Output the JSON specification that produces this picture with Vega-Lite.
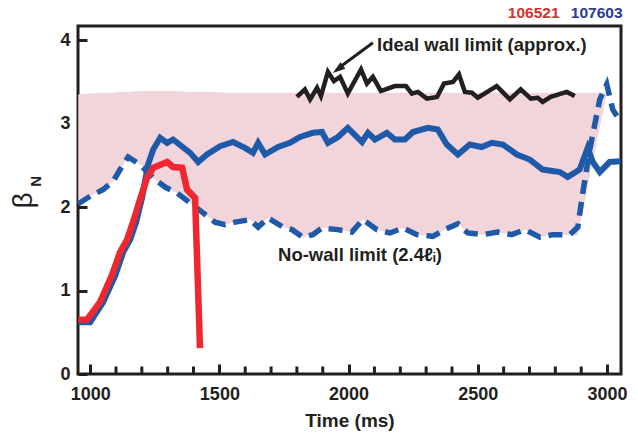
{
  "$schema": "https://vega.github.io/schema/vega-lite/v6.json",
  "width": 543,
  "height": 348,
  "autosize": {"type": "none"},
  "padding": {"left": 78, "top": 26, "right": 17, "bottom": 62},
  "background": "white",
  "config": {
    "view": {"stroke": "#231f20", "strokeWidth": 3},
    "font": "Liberation Sans"
  },
  "datasets": {
    "band": [
      {"t": 954, "lo": 2.04, "hi": 3.35}, {"t": 1000, "lo": 2.13, "hi": 3.36},
      {"t": 1050, "lo": 2.21, "hi": 3.37}, {"t": 1089, "lo": 2.31, "hi": 3.37},
      {"t": 1116, "lo": 2.45, "hi": 3.38}, {"t": 1147, "lo": 2.6, "hi": 3.38},
      {"t": 1193, "lo": 2.51, "hi": 3.39}, {"t": 1251, "lo": 2.33, "hi": 3.39},
      {"t": 1290, "lo": 2.24, "hi": 3.39}, {"t": 1336, "lo": 2.17, "hi": 3.39},
      {"t": 1387, "lo": 2.05, "hi": 3.38}, {"t": 1437, "lo": 1.93, "hi": 3.38},
      {"t": 1483, "lo": 1.82, "hi": 3.38}, {"t": 1522, "lo": 1.79, "hi": 3.37},
      {"t": 1561, "lo": 1.82, "hi": 3.37}, {"t": 1619, "lo": 1.85, "hi": 3.37},
      {"t": 1650, "lo": 1.76, "hi": 3.37}, {"t": 1688, "lo": 1.87, "hi": 3.37},
      {"t": 1746, "lo": 1.76, "hi": 3.37}, {"t": 1781, "lo": 1.73, "hi": 3.37},
      {"t": 1823, "lo": 1.64, "hi": 3.37}, {"t": 1862, "lo": 1.67, "hi": 3.37},
      {"t": 1897, "lo": 1.75, "hi": 3.37}, {"t": 1959, "lo": 1.73, "hi": 3.37},
      {"t": 2013, "lo": 1.7, "hi": 3.37}, {"t": 2055, "lo": 1.85, "hi": 3.37},
      {"t": 2110, "lo": 1.73, "hi": 3.37}, {"t": 2160, "lo": 1.69, "hi": 3.37},
      {"t": 2210, "lo": 1.75, "hi": 3.37}, {"t": 2264, "lo": 1.67, "hi": 3.37},
      {"t": 2326, "lo": 1.65, "hi": 3.37}, {"t": 2372, "lo": 1.73, "hi": 3.37},
      {"t": 2423, "lo": 1.8, "hi": 3.37}, {"t": 2461, "lo": 1.69, "hi": 3.37},
      {"t": 2519, "lo": 1.67, "hi": 3.37}, {"t": 2577, "lo": 1.7, "hi": 3.37},
      {"t": 2631, "lo": 1.67, "hi": 3.37}, {"t": 2682, "lo": 1.73, "hi": 3.37},
      {"t": 2740, "lo": 1.64, "hi": 3.37}, {"t": 2790, "lo": 1.67, "hi": 3.37},
      {"t": 2856, "lo": 1.67, "hi": 3.37}, {"t": 2887, "lo": 1.66, "hi": 3.37},
      {"t": 2999, "lo": 3.37, "hi": 3.37}
    ],
    "nowall": [
      {"t": 954, "b": 2.04}, {"t": 1000, "b": 2.13}, {"t": 1050, "b": 2.21},
      {"t": 1089, "b": 2.31}, {"t": 1116, "b": 2.45}, {"t": 1147, "b": 2.6},
      {"t": 1193, "b": 2.51}, {"t": 1251, "b": 2.33}, {"t": 1290, "b": 2.24},
      {"t": 1336, "b": 2.17}, {"t": 1387, "b": 2.05}, {"t": 1437, "b": 1.93},
      {"t": 1483, "b": 1.82}, {"t": 1522, "b": 1.79}, {"t": 1561, "b": 1.82},
      {"t": 1619, "b": 1.85}, {"t": 1650, "b": 1.76}, {"t": 1688, "b": 1.87},
      {"t": 1746, "b": 1.76}, {"t": 1781, "b": 1.73}, {"t": 1823, "b": 1.64},
      {"t": 1862, "b": 1.67}, {"t": 1897, "b": 1.75}, {"t": 1959, "b": 1.73},
      {"t": 2013, "b": 1.7}, {"t": 2055, "b": 1.85}, {"t": 2110, "b": 1.73},
      {"t": 2160, "b": 1.69}, {"t": 2210, "b": 1.75}, {"t": 2264, "b": 1.67},
      {"t": 2326, "b": 1.65}, {"t": 2372, "b": 1.73}, {"t": 2423, "b": 1.8},
      {"t": 2461, "b": 1.69}, {"t": 2519, "b": 1.67}, {"t": 2577, "b": 1.7},
      {"t": 2631, "b": 1.67}, {"t": 2682, "b": 1.73}, {"t": 2740, "b": 1.64},
      {"t": 2790, "b": 1.67}, {"t": 2856, "b": 1.67}, {"t": 2887, "b": 1.76},
      {"t": 2902, "b": 2.09}, {"t": 2933, "b": 2.69}, {"t": 2972, "b": 3.29},
      {"t": 2999, "b": 3.47}, {"t": 3022, "b": 3.17}, {"t": 3053, "b": 3.02}
    ],
    "blue": [
      {"t": 954, "b": 0.62}, {"t": 1000, "b": 0.62}, {"t": 1050, "b": 0.86},
      {"t": 1097, "b": 1.18}, {"t": 1128, "b": 1.46}, {"t": 1155, "b": 1.61},
      {"t": 1178, "b": 1.82}, {"t": 1201, "b": 2.11}, {"t": 1224, "b": 2.51},
      {"t": 1244, "b": 2.69}, {"t": 1271, "b": 2.83}, {"t": 1298, "b": 2.77},
      {"t": 1321, "b": 2.81}, {"t": 1387, "b": 2.65}, {"t": 1418, "b": 2.54},
      {"t": 1452, "b": 2.63}, {"t": 1503, "b": 2.73}, {"t": 1553, "b": 2.78},
      {"t": 1599, "b": 2.71}, {"t": 1630, "b": 2.65}, {"t": 1650, "b": 2.77},
      {"t": 1677, "b": 2.63}, {"t": 1727, "b": 2.72}, {"t": 1773, "b": 2.77},
      {"t": 1812, "b": 2.84}, {"t": 1862, "b": 2.89}, {"t": 1897, "b": 2.9},
      {"t": 1920, "b": 2.77}, {"t": 1959, "b": 2.84}, {"t": 1997, "b": 2.95},
      {"t": 2052, "b": 2.78}, {"t": 2075, "b": 2.89}, {"t": 2102, "b": 2.81},
      {"t": 2148, "b": 2.89}, {"t": 2179, "b": 2.81}, {"t": 2218, "b": 2.81},
      {"t": 2249, "b": 2.9}, {"t": 2307, "b": 2.95}, {"t": 2345, "b": 2.93},
      {"t": 2380, "b": 2.75}, {"t": 2423, "b": 2.63}, {"t": 2469, "b": 2.75},
      {"t": 2515, "b": 2.72}, {"t": 2554, "b": 2.77}, {"t": 2597, "b": 2.75},
      {"t": 2651, "b": 2.63}, {"t": 2701, "b": 2.57}, {"t": 2751, "b": 2.45},
      {"t": 2817, "b": 2.42}, {"t": 2848, "b": 2.36}, {"t": 2894, "b": 2.45},
      {"t": 2925, "b": 2.71}, {"t": 2945, "b": 2.54}, {"t": 2972, "b": 2.42},
      {"t": 3010, "b": 2.54}, {"t": 3053, "b": 2.55}
    ],
    "ideal": [
      {"t": 1800, "b": 3.32}, {"t": 1831, "b": 3.41}, {"t": 1851, "b": 3.29},
      {"t": 1878, "b": 3.43}, {"t": 1893, "b": 3.33}, {"t": 1920, "b": 3.62},
      {"t": 1943, "b": 3.51}, {"t": 1967, "b": 3.56}, {"t": 1997, "b": 3.36},
      {"t": 2048, "b": 3.65}, {"t": 2071, "b": 3.48}, {"t": 2094, "b": 3.56},
      {"t": 2125, "b": 3.39}, {"t": 2179, "b": 3.45}, {"t": 2222, "b": 3.45},
      {"t": 2245, "b": 3.36}, {"t": 2268, "b": 3.38}, {"t": 2303, "b": 3.3},
      {"t": 2342, "b": 3.32}, {"t": 2369, "b": 3.48}, {"t": 2404, "b": 3.5},
      {"t": 2427, "b": 3.59}, {"t": 2450, "b": 3.38}, {"t": 2477, "b": 3.37},
      {"t": 2500, "b": 3.31}, {"t": 2573, "b": 3.45}, {"t": 2624, "b": 3.29},
      {"t": 2666, "b": 3.41}, {"t": 2705, "b": 3.3}, {"t": 2732, "b": 3.31},
      {"t": 2751, "b": 3.26}, {"t": 2782, "b": 3.32}, {"t": 2844, "b": 3.38},
      {"t": 2875, "b": 3.33}
    ],
    "red": [
      {"t": 954, "b": 0.65}, {"t": 988, "b": 0.65}, {"t": 1038, "b": 0.86},
      {"t": 1085, "b": 1.19}, {"t": 1116, "b": 1.46}, {"t": 1143, "b": 1.61},
      {"t": 1166, "b": 1.82}, {"t": 1193, "b": 2.09}, {"t": 1220, "b": 2.35},
      {"t": 1244, "b": 2.47}, {"t": 1298, "b": 2.54}, {"t": 1321, "b": 2.48},
      {"t": 1356, "b": 2.47}, {"t": 1375, "b": 2.21}, {"t": 1406, "b": 2.11},
      {"t": 1425, "b": 0.31}
    ],
    "arrow": [
      {"t": 2094, "b": 3.97}, {"t": 1972, "b": 3.69}
    ],
    "minor": [
      {"t": 1100}, {"t": 1200}, {"t": 1300}, {"t": 1400}, {"t": 1600},
      {"t": 1700}, {"t": 1800}, {"t": 1900}, {"t": 2100}, {"t": 2200},
      {"t": 2300}, {"t": 2400}, {"t": 2600}, {"t": 2700}, {"t": 2800}, {"t": 2900}
    ]
  },
  "layer": [
    {
      "data": {"name": "band"},
      "mark": {"type": "area", "color": "#f2d5da", "opacity": 1},
      "encoding": {
        "x": {
          "field": "t", "type": "quantitative",
          "scale": {"domain": [953, 3054], "nice": false, "zero": false},
          "axis": {
            "values": [1000, 1500, 2000, 2500, 3000],
            "format": "d",
            "tickSize": -10,
            "tickWidth": 3,
            "tickColor": "#231f20",
            "domain": false,
            "grid": false,
            "labelFont": "Liberation Sans",
            "labelFontSize": 18,
            "labelFontWeight": "bold",
            "labelColor": "#231f20",
            "labelPadding": 21,
            "labelOverlap": false,
            "labelFlush": false,
            "title": "Time (ms)",
            "titleFont": "Liberation Sans",
            "titleFontSize": 19,
            "titleFontWeight": "bold",
            "titleColor": "#231f20",
            "titleBaseline": "top",
            "titleY": 37
          }
        },
        "y": {
          "field": "lo", "type": "quantitative",
          "scale": {"domain": [0, 4.17], "nice": false, "zero": false},
          "axis": {
            "values": [0, 1, 2, 3, 4],
            "format": "d",
            "tickSize": -9,
            "tickWidth": 3,
            "tickColor": "#231f20",
            "domain": false,
            "grid": false,
            "labelFont": "Liberation Sans",
            "labelFontSize": 18,
            "labelFontWeight": "bold",
            "labelColor": "#231f20",
            "labelPadding": 17,
            "labelOverlap": false,
            "labelFlush": false,
            "title": "β",
            "titleFont": "Liberation Sans",
            "titleFontSize": 28,
            "titleFontWeight": "normal",
            "titleColor": "#231f20",
            "titleAngle": 270,
            "titleAlign": "center",
            "titleBaseline": "middle",
            "titleX": -55,
            "titleY": 174
          }
        },
        "y2": {"field": "hi"}
      }
    },
    {
      "data": {"name": "nowall"},
      "mark": {"type": "line", "color": "#1e5aa8", "strokeWidth": 5.5, "strokeDash": [14, 8], "strokeCap": "butt", "strokeJoin": "miter"},
      "encoding": {
        "x": {"field": "t", "type": "quantitative"},
        "y": {"field": "b", "type": "quantitative"}
      }
    },
    {
      "data": {"name": "blue"},
      "mark": {"type": "line", "color": "#1e5aa8", "strokeWidth": 6, "strokeJoin": "miter"},
      "encoding": {
        "x": {"field": "t", "type": "quantitative"},
        "y": {"field": "b", "type": "quantitative"}
      }
    },
    {
      "data": {"name": "ideal"},
      "mark": {"type": "line", "color": "#231f20", "strokeWidth": 4.5, "strokeJoin": "miter"},
      "encoding": {
        "x": {"field": "t", "type": "quantitative"},
        "y": {"field": "b", "type": "quantitative"}
      }
    },
    {
      "data": {"name": "red"},
      "mark": {"type": "line", "color": "#ed2830", "strokeWidth": 6.5, "strokeJoin": "miter"},
      "encoding": {
        "x": {"field": "t", "type": "quantitative"},
        "y": {"field": "b", "type": "quantitative"}
      }
    },
    {
      "data": {"name": "arrow"},
      "mark": {"type": "line", "color": "#231f20", "strokeWidth": 3},
      "encoding": {
        "x": {"field": "t", "type": "quantitative"},
        "y": {"field": "b", "type": "quantitative"}
      }
    },
    {
      "data": {"name": "minor"},
      "mark": {"type": "rule", "color": "#231f20", "strokeWidth": 3},
      "encoding": {
        "x": {"field": "t", "type": "quantitative"},
        "y": {"datum": 0, "type": "quantitative"},
        "y2": {"datum": 0.09}
      }
    },
    {
      "data": {"values": [{}]},
      "mark": {"type": "point", "shape": "M0,-1L0.55,0.7L-0.55,0.7Z", "filled": true, "color": "#231f20", "opacity": 1, "size": 220, "angle": 233},
      "encoding": {
        "x": {"datum": 1962, "type": "quantitative"},
        "y": {"datum": 3.66, "type": "quantitative"}
      }
    },
    {
      "data": {"values": [{"label": "Ideal wall limit (approx.)"}]},
      "mark": {"type": "text", "align": "left", "baseline": "middle", "font": "Liberation Sans", "fontWeight": "bold", "fontSize": 18.5, "color": "#231f20"},
      "encoding": {
        "x": {"datum": 2110, "type": "quantitative"},
        "y": {"datum": 3.94, "type": "quantitative"},
        "text": {"field": "label"}
      }
    },
    {
      "data": {"values": [{"label": "No-wall limit (2.4ℓᵢ)"}]},
      "mark": {"type": "text", "align": "left", "baseline": "middle", "font": "Liberation Sans", "fontWeight": "bold", "fontSize": 18.5, "color": "#231f20"},
      "encoding": {
        "x": {"datum": 1727, "type": "quantitative"},
        "y": {"datum": 1.43, "type": "quantitative"},
        "text": {"field": "label"}
      }
    },
    {
      "data": {"values": [{"label": "106521"}]},
      "mark": {"type": "text", "align": "left", "baseline": "middle", "font": "Liberation Sans", "fontWeight": "bold", "fontSize": 15.5, "color": "#d7302c"},
      "encoding": {
        "x": {"datum": 2616, "type": "quantitative"},
        "y": {"datum": 4.32, "type": "quantitative"},
        "text": {"field": "label"}
      }
    },
    {
      "data": {"values": [{"label": "107603"}]},
      "mark": {"type": "text", "align": "left", "baseline": "middle", "font": "Liberation Sans", "fontWeight": "bold", "fontSize": 15.5, "color": "#2b3990"},
      "encoding": {
        "x": {"datum": 2860, "type": "quantitative"},
        "y": {"datum": 4.32, "type": "quantitative"},
        "text": {"field": "label"}
      }
    },
    {
      "data": {"values": [{"label": "N"}]},
      "mark": {"type": "text", "align": "center", "baseline": "middle", "angle": 270, "font": "Liberation Sans", "fontWeight": "bold", "fontSize": 15, "color": "#231f20"},
      "encoding": {
        "x": {"datum": 790, "type": "quantitative"},
        "y": {"datum": 2.31, "type": "quantitative"},
        "text": {"field": "label"}
      }
    }
  ]
}
